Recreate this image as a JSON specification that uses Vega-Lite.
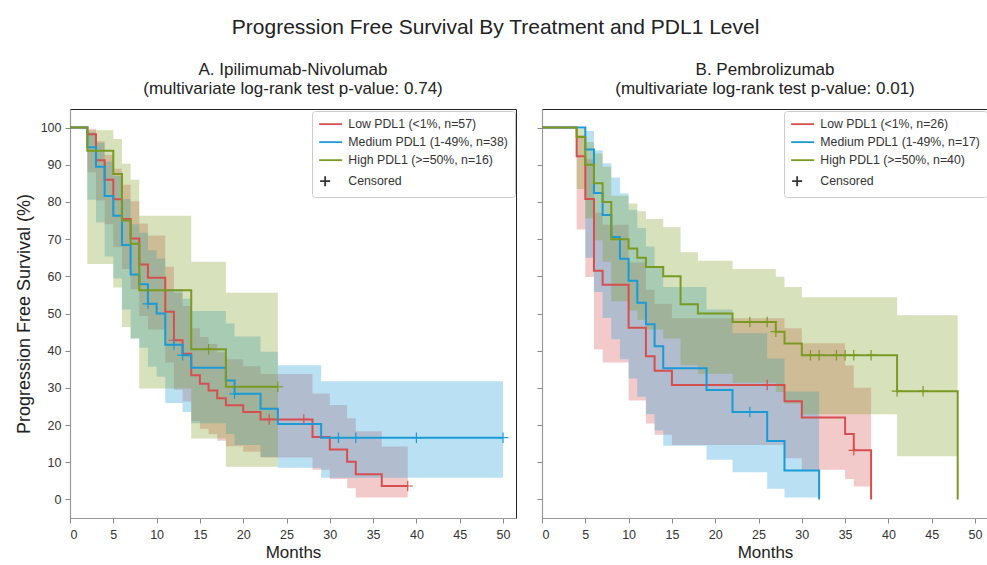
{
  "$schema": "https://vega.github.io/schema/vega-lite/v6.json",
  "background": "white",
  "padding": {"left": 14, "top": 16, "right": 0, "bottom": 0},
  "config": {
    "font": "Liberation Sans",
    "view": {"stroke": "#222", "strokeWidth": 1},
    "axis": {"grid": false, "domainColor": "#999", "domainWidth": 1.2, "tickColor": "#888", "tickSize": 5, "labelFontSize": 12.5, "labelColor": "#333", "labelPadding": 4, "titleFontSize": 17, "titleFontWeight": "normal", "titleColor": "#222", "labelFont": "Liberation Sans", "titleFont": "Liberation Sans"},
    "title": {"font": "Liberation Sans", "fontWeight": "normal", "color": "#222"}
  },
  "title": {"text": "Progression Free Survival By Treatment and PDL1 Level", "fontSize": 21, "anchor": "middle", "offset": 23, "dx": -6},
  "spacing": 19,
  "resolve": {"scale": {"color": "independent", "shape": "independent", "x": "independent", "y": "independent"}, "legend": {"color": "independent", "shape": "independent"}},
  "hconcat": [
    {
      "width": 446, "height": 409,
      "title": {"text": ["A. Ipilimumab-Nivolumab", "(multivariate log-rank test p-value: 0.74)"], "fontSize": 17, "lineHeight": 19, "offset": 11, "anchor": "middle"},
      "layer": [
        {"data": {"name": "bandsA"}, "mark": {"type": "area", "interpolate": "step-after", "opacity": 0.3},
         "encoding": {
           "x": {"field": "t", "type": "quantitative", "scale": {"domain": [0, 51.5], "nice": false}, "axis": {"values": [0,5,10,15,20,25,30,35,40,45,50], "labelPadding": 5, "titlePadding": 4}, "title": "Months"},
           "y": {"field": "lo", "type": "quantitative", "scale": {"domain": [-5, 105], "nice": false}, "axis": {"values": [0,10,20,30,40,50,60,70,80,90,100], "titlePadding": 7, "titleFontSize": 18}, "title": "Progression Free Survival (%)"},
           "y2": {"field": "hi"},
           "fill": {"field": "g", "type": "nominal", "scale": {"domain": ["Low", "Medium", "High"], "range": ["#d64f4f", "#1a9ad6", "#7a9a22"]}, "legend": null}
         }},
        {"data": {"name": "curvesA"}, "mark": {"type": "line", "interpolate": "step-after", "strokeWidth": 2},
         "encoding": {
           "x": {"field": "t", "type": "quantitative"},
           "y": {"field": "s", "type": "quantitative"},
           "stroke": {"field": "g", "type": "nominal", "scale": {"domain": ["Low", "Medium", "High"], "range": ["#d64f4f", "#1a9ad6", "#7a9a22"]}, "legend": null}
         }},
        {"data": {"name": "censA"}, "mark": {"type": "point", "shape": "M-1,0L1,0M0,-1L0,1", "filled": false, "size": 110, "strokeWidth": 1.2, "opacity": 1},
         "encoding": {
           "x": {"field": "t", "type": "quantitative"},
           "y": {"field": "s", "type": "quantitative"},
           "stroke": {"field": "g", "type": "nominal", "legend": null}
         }},
        {"data": {"name": "legendA"}, "mark": {"type": "point", "filled": false, "clip": true, "strokeWidth": 1.8, "opacity": 1},
         "encoding": {
           "x": {"field": "t", "type": "quantitative"},
           "y": {"field": "s", "type": "quantitative"},
           "color": {"field": "lg", "type": "nominal", "scale": {"domain": ["Low PDL1 (<1%, n=57)", "Medium PDL1 (1-49%, n=38)", "High PDL1 (>=50%, n=16)", "Censored"], "range": ["#d64f4f", "#1a9ad6", "#7a9a22", "#333333"]},
             "legend": {"title": null, "orient": "top-right", "offset": 1.5, "labelFontSize": 12.3, "labelColor": "#333", "symbolSize": 100, "symbolStrokeWidth": 1.8, "labelOffset": 17, "rowPadding": 5, "padding": 7, "strokeColor": "#cccccc", "fillColor": "white", "cornerRadius": 3}},
           "shape": {"field": "lg", "type": "nominal", "scale": {"domain": ["Low PDL1 (<1%, n=57)", "Medium PDL1 (1-49%, n=38)", "High PDL1 (>=50%, n=16)", "Censored"], "range": ["M-1.2,0L3.4,0", "M-1.2,0L3.4,0", "M-1.2,0L3.4,0", "M-1,0L1,0M0,-1L0,1"]},
             "legend": {"title": null, "orient": "top-right", "offset": 1.5, "labelFontSize": 12.3, "labelColor": "#333", "symbolSize": 100, "symbolStrokeWidth": 1.8, "labelOffset": 17, "rowPadding": 5, "padding": 7, "strokeColor": "#cccccc", "fillColor": "white", "cornerRadius": 3}}
         }}
      ]
    },
    {
      "width": 446, "height": 409,
      "title": {"text": ["B. Pembrolizumab", "(multivariate log-rank test p-value: 0.01)"], "fontSize": 17, "lineHeight": 19, "offset": 11, "anchor": "middle"},
      "layer": [
        {"data": {"name": "bandsB"}, "mark": {"type": "area", "interpolate": "step-after", "opacity": 0.3},
         "encoding": {
           "x": {"field": "t", "type": "quantitative", "scale": {"domain": [0, 51.5], "nice": false}, "axis": {"values": [0,5,10,15,20,25,30,35,40,45,50], "labelPadding": 5, "titlePadding": 4}, "title": "Months"},
           "y": {"field": "lo", "type": "quantitative", "scale": {"domain": [-5, 105], "nice": false}, "axis": {"values": [0,10,20,30,40,50,60,70,80,90,100], "labels": false, "title": null}},
           "y2": {"field": "hi"},
           "fill": {"field": "g", "type": "nominal", "scale": {"domain": ["Low", "Medium", "High"], "range": ["#d64f4f", "#1a9ad6", "#7a9a22"]}, "legend": null}
         }},
        {"data": {"name": "curvesB"}, "mark": {"type": "line", "interpolate": "step-after", "strokeWidth": 2},
         "encoding": {
           "x": {"field": "t", "type": "quantitative"},
           "y": {"field": "s", "type": "quantitative"},
           "stroke": {"field": "g", "type": "nominal", "scale": {"domain": ["Low", "Medium", "High"], "range": ["#d64f4f", "#1a9ad6", "#7a9a22"]}, "legend": null}
         }},
        {"data": {"name": "censB"}, "mark": {"type": "point", "shape": "M-1,0L1,0M0,-1L0,1", "filled": false, "size": 110, "strokeWidth": 1.2, "opacity": 1},
         "encoding": {
           "x": {"field": "t", "type": "quantitative"},
           "y": {"field": "s", "type": "quantitative"},
           "stroke": {"field": "g", "type": "nominal", "legend": null}
         }},
        {"data": {"name": "legendB"}, "mark": {"type": "point", "filled": false, "clip": true, "strokeWidth": 1.8, "opacity": 1},
         "encoding": {
           "x": {"field": "t", "type": "quantitative"},
           "y": {"field": "s", "type": "quantitative"},
           "color": {"field": "lg", "type": "nominal", "scale": {"domain": ["Low PDL1 (<1%, n=26)", "Medium PDL1 (1-49%, n=17)", "High PDL1 (>=50%, n=40)", "Censored"], "range": ["#d64f4f", "#1a9ad6", "#7a9a22", "#333333"]},
             "legend": {"title": null, "orient": "top-right", "offset": 1.5, "labelFontSize": 12.3, "labelColor": "#333", "symbolSize": 100, "symbolStrokeWidth": 1.8, "labelOffset": 17, "rowPadding": 5, "padding": 7, "strokeColor": "#cccccc", "fillColor": "white", "cornerRadius": 3}},
           "shape": {"field": "lg", "type": "nominal", "scale": {"domain": ["Low PDL1 (<1%, n=26)", "Medium PDL1 (1-49%, n=17)", "High PDL1 (>=50%, n=40)", "Censored"], "range": ["M-1.2,0L3.4,0", "M-1.2,0L3.4,0", "M-1.2,0L3.4,0", "M-1,0L1,0M0,-1L0,1"]},
             "legend": {"title": null, "orient": "top-right", "offset": 1.5, "labelFontSize": 12.3, "labelColor": "#333", "symbolSize": 100, "symbolStrokeWidth": 1.8, "labelOffset": 17, "rowPadding": 5, "padding": 7, "strokeColor": "#cccccc", "fillColor": "white", "cornerRadius": 3}}
         }}
      ]
    }
  ],
  "datasets": {
    "legendA": [
      {"lg": "Low PDL1 (<1%, n=57)", "t": -10, "s": 50},
      {"lg": "Medium PDL1 (1-49%, n=38)", "t": -10, "s": 50},
      {"lg": "High PDL1 (>=50%, n=16)", "t": -10, "s": 50},
      {"lg": "Censored", "t": -10, "s": 50}
    ],
    "legendB": [
      {"lg": "Low PDL1 (<1%, n=26)", "t": -10, "s": 50},
      {"lg": "Medium PDL1 (1-49%, n=17)", "t": -10, "s": 50},
      {"lg": "High PDL1 (>=50%, n=40)", "t": -10, "s": 50},
      {"lg": "Censored", "t": -10, "s": 50}
    ],
    "curvesA": [
      {"g": "Low", "t": 0, "s": 100}, {"g": "Low", "t": 2, "s": 98.2}, {"g": "Low", "t": 3, "s": 91.2}, {"g": "Low", "t": 4, "s": 86.0}, {"g": "Low", "t": 5, "s": 80.7}, {"g": "Low", "t": 6, "s": 75.4}, {"g": "Low", "t": 7, "s": 70.2}, {"g": "Low", "t": 8, "s": 63.2}, {"g": "Low", "t": 9, "s": 59.6}, {"g": "Low", "t": 11, "s": 50.5}, {"g": "Low", "t": 12, "s": 42.8}, {"g": "Low", "t": 13, "s": 39.2}, {"g": "Low", "t": 14, "s": 33.4}, {"g": "Low", "t": 15, "s": 31.1}, {"g": "Low", "t": 16, "s": 29.3}, {"g": "Low", "t": 17, "s": 27.2}, {"g": "Low", "t": 18, "s": 25.3}, {"g": "Low", "t": 20, "s": 23.5}, {"g": "Low", "t": 22, "s": 21.5}, {"g": "Low", "t": 28, "s": 16.8}, {"g": "Low", "t": 30, "s": 13.4}, {"g": "Low", "t": 32, "s": 10.1}, {"g": "Low", "t": 33, "s": 6.8}, {"g": "Low", "t": 36, "s": 3.6}, {"g": "Low", "t": 39, "s": 3.6},
      {"g": "Medium", "t": 0, "s": 100}, {"g": "Medium", "t": 2, "s": 94.7}, {"g": "Medium", "t": 3, "s": 89.5}, {"g": "Medium", "t": 4, "s": 81.6}, {"g": "Medium", "t": 5, "s": 76.3}, {"g": "Medium", "t": 6, "s": 68.4}, {"g": "Medium", "t": 7, "s": 60.5}, {"g": "Medium", "t": 8, "s": 57.9}, {"g": "Medium", "t": 9, "s": 52.6}, {"g": "Medium", "t": 10, "s": 50.0}, {"g": "Medium", "t": 11, "s": 41.6}, {"g": "Medium", "t": 13, "s": 38.8}, {"g": "Medium", "t": 14, "s": 35.4}, {"g": "Medium", "t": 18, "s": 32.0}, {"g": "Medium", "t": 19, "s": 28.4}, {"g": "Medium", "t": 22, "s": 24.4}, {"g": "Medium", "t": 24, "s": 20.3}, {"g": "Medium", "t": 29, "s": 16.6}, {"g": "Medium", "t": 50, "s": 16.6},
      {"g": "High", "t": 0, "s": 100}, {"g": "High", "t": 2, "s": 93.75}, {"g": "High", "t": 5, "s": 87.5}, {"g": "High", "t": 6, "s": 75}, {"g": "High", "t": 7, "s": 68.75}, {"g": "High", "t": 8, "s": 56.25}, {"g": "High", "t": 14, "s": 40.4}, {"g": "High", "t": 18, "s": 30.3}, {"g": "High", "t": 24, "s": 30.3}
    ],
    "bandsA": [
      {"g": "Low", "t": 2, "lo": 88.0, "hi": 99.7}, {"g": "Low", "t": 3, "lo": 80.4, "hi": 96.3}, {"g": "Low", "t": 4, "lo": 74.0, "hi": 92.7}, {"g": "Low", "t": 5, "lo": 67.8, "hi": 88.9}, {"g": "Low", "t": 6, "lo": 62.0, "hi": 84.6}, {"g": "Low", "t": 7, "lo": 56.5, "hi": 80.2}, {"g": "Low", "t": 8, "lo": 49.3, "hi": 74.2}, {"g": "Low", "t": 9, "lo": 45.7, "hi": 71.0}, {"g": "Low", "t": 11, "lo": 36.8, "hi": 62.6}, {"g": "Low", "t": 12, "lo": 29.5, "hi": 55.5}, {"g": "Low", "t": 13, "lo": 26.3, "hi": 52.0}, {"g": "Low", "t": 14, "lo": 21.0, "hi": 46.0}, {"g": "Low", "t": 15, "lo": 19.0, "hi": 43.7}, {"g": "Low", "t": 16, "lo": 17.5, "hi": 41.8}, {"g": "Low", "t": 17, "lo": 15.8, "hi": 39.6}, {"g": "Low", "t": 18, "lo": 14.3, "hi": 37.7}, {"g": "Low", "t": 20, "lo": 12.8, "hi": 35.8}, {"g": "Low", "t": 22, "lo": 11.3, "hi": 33.7}, {"g": "Low", "t": 28, "lo": 8.0, "hi": 28.5}, {"g": "Low", "t": 30, "lo": 5.5, "hi": 25.4}, {"g": "Low", "t": 32, "lo": 3.0, "hi": 21.8}, {"g": "Low", "t": 33, "lo": 0.5, "hi": 18.3}, {"g": "Low", "t": 36, "lo": 0.5, "hi": 14.2}, {"g": "Low", "t": 39, "lo": 0.5, "hi": 14.2},
      {"g": "Medium", "t": 2, "lo": 80.6, "hi": 98.7}, {"g": "Medium", "t": 3, "lo": 74.5, "hi": 95.9}, {"g": "Medium", "t": 4, "lo": 65.3, "hi": 90.8}, {"g": "Medium", "t": 5, "lo": 59.4, "hi": 87.0}, {"g": "Medium", "t": 6, "lo": 51.1, "hi": 80.8}, {"g": "Medium", "t": 7, "lo": 43.3, "hi": 74.0}, {"g": "Medium", "t": 8, "lo": 40.8, "hi": 71.7}, {"g": "Medium", "t": 9, "lo": 35.7, "hi": 67.0}, {"g": "Medium", "t": 10, "lo": 33.0, "hi": 64.8}, {"g": "Medium", "t": 11, "lo": 25.9, "hi": 56.6}, {"g": "Medium", "t": 13, "lo": 23.5, "hi": 54.0}, {"g": "Medium", "t": 14, "lo": 20.5, "hi": 50.7}, {"g": "Medium", "t": 18, "lo": 17.6, "hi": 47.3}, {"g": "Medium", "t": 19, "lo": 14.6, "hi": 43.8}, {"g": "Medium", "t": 22, "lo": 11.4, "hi": 39.7}, {"g": "Medium", "t": 24, "lo": 8.5, "hi": 36.1}, {"g": "Medium", "t": 29, "lo": 5.8, "hi": 31.8}, {"g": "Medium", "t": 50, "lo": 5.8, "hi": 31.8},
      {"g": "High", "t": 2, "lo": 63.3, "hi": 99.3}, {"g": "High", "t": 5, "lo": 57.0, "hi": 96.9}, {"g": "High", "t": 6, "lo": 46.4, "hi": 90.3}, {"g": "High", "t": 7, "lo": 43.3, "hi": 86.0}, {"g": "High", "t": 8, "lo": 29.8, "hi": 76.3}, {"g": "High", "t": 14, "lo": 16.4, "hi": 63.9}, {"g": "High", "t": 18, "lo": 8.8, "hi": 55.6}, {"g": "High", "t": 24, "lo": 8.8, "hi": 55.6}
    ],
    "censA": [
      {"g": "Low", "t": 12, "s": 42.8}, {"g": "Low", "t": 23, "s": 21.5}, {"g": "Low", "t": 27, "s": 21.5}, {"g": "Low", "t": 39, "s": 3.6},
      {"g": "Medium", "t": 9, "s": 52.6}, {"g": "Medium", "t": 12, "s": 41.6}, {"g": "Medium", "t": 13, "s": 38.8}, {"g": "Medium", "t": 19, "s": 28.4}, {"g": "Medium", "t": 31, "s": 16.6}, {"g": "Medium", "t": 33, "s": 16.6}, {"g": "Medium", "t": 40, "s": 16.6}, {"g": "Medium", "t": 50, "s": 16.6},
      {"g": "High", "t": 16, "s": 40.4}, {"g": "High", "t": 24, "s": 30.3}
    ],
    "curvesB": [
      {"g": "Low", "t": 0, "s": 100}, {"g": "Low", "t": 4, "s": 92.3}, {"g": "Low", "t": 5, "s": 80.8}, {"g": "Low", "t": 6, "s": 61.5}, {"g": "Low", "t": 7, "s": 57.7}, {"g": "Low", "t": 10, "s": 46.2}, {"g": "Low", "t": 12, "s": 38.5}, {"g": "Low", "t": 13, "s": 34.6}, {"g": "Low", "t": 15, "s": 30.8}, {"g": "Low", "t": 28, "s": 26.4}, {"g": "Low", "t": 30, "s": 22.0}, {"g": "Low", "t": 35, "s": 17.6}, {"g": "Low", "t": 36, "s": 13.2}, {"g": "Low", "t": 38, "s": 0},
      {"g": "Medium", "t": 0, "s": 100}, {"g": "Medium", "t": 5, "s": 94.1}, {"g": "Medium", "t": 6, "s": 82.4}, {"g": "Medium", "t": 7, "s": 76.5}, {"g": "Medium", "t": 8, "s": 70.6}, {"g": "Medium", "t": 9, "s": 64.7}, {"g": "Medium", "t": 10, "s": 58.8}, {"g": "Medium", "t": 11, "s": 52.9}, {"g": "Medium", "t": 12, "s": 47.1}, {"g": "Medium", "t": 13, "s": 41.2}, {"g": "Medium", "t": 14, "s": 35.3}, {"g": "Medium", "t": 19, "s": 29.4}, {"g": "Medium", "t": 22, "s": 23.5}, {"g": "Medium", "t": 26, "s": 15.7}, {"g": "Medium", "t": 28, "s": 7.8}, {"g": "Medium", "t": 32, "s": 0},
      {"g": "High", "t": 0, "s": 100}, {"g": "High", "t": 4, "s": 97.5}, {"g": "High", "t": 5, "s": 90}, {"g": "High", "t": 6, "s": 85}, {"g": "High", "t": 7, "s": 80}, {"g": "High", "t": 8, "s": 70}, {"g": "High", "t": 10, "s": 67.5}, {"g": "High", "t": 11, "s": 65}, {"g": "High", "t": 12, "s": 62.5}, {"g": "High", "t": 14, "s": 60}, {"g": "High", "t": 16, "s": 52.5}, {"g": "High", "t": 18, "s": 50}, {"g": "High", "t": 22, "s": 47.7}, {"g": "High", "t": 27, "s": 45.1}, {"g": "High", "t": 28, "s": 41.9}, {"g": "High", "t": 30, "s": 38.8}, {"g": "High", "t": 41, "s": 29.1}, {"g": "High", "t": 48, "s": 0}
    ],
    "bandsB": [
      {"g": "Low", "t": 4, "lo": 72.6, "hi": 98.0}, {"g": "Low", "t": 5, "lo": 59.8, "hi": 91.5}, {"g": "Low", "t": 6, "lo": 40.4, "hi": 77.1}, {"g": "Low", "t": 7, "lo": 36.8, "hi": 73.9}, {"g": "Low", "t": 10, "lo": 26.6, "hi": 63.7}, {"g": "Low", "t": 12, "lo": 20.4, "hi": 56.4}, {"g": "Low", "t": 13, "lo": 17.4, "hi": 52.6}, {"g": "Low", "t": 15, "lo": 14.6, "hi": 48.7}, {"g": "Low", "t": 28, "lo": 11.1, "hi": 46.0}, {"g": "Low", "t": 30, "lo": 8.0, "hi": 42.0}, {"g": "Low", "t": 35, "lo": 5.5, "hi": 36.0}, {"g": "Low", "t": 36, "lo": 3.5, "hi": 30.0}, {"g": "Low", "t": 38, "lo": 3.5, "hi": 30.0},
      {"g": "Medium", "t": 5, "lo": 65.0, "hi": 99.1}, {"g": "Medium", "t": 6, "lo": 55.8, "hi": 93.9}, {"g": "Medium", "t": 7, "lo": 48.8, "hi": 90.4}, {"g": "Medium", "t": 8, "lo": 43.1, "hi": 86.6}, {"g": "Medium", "t": 9, "lo": 37.7, "hi": 82.3}, {"g": "Medium", "t": 10, "lo": 32.5, "hi": 77.9}, {"g": "Medium", "t": 11, "lo": 27.6, "hi": 73.0}, {"g": "Medium", "t": 12, "lo": 22.9, "hi": 68.0}, {"g": "Medium", "t": 13, "lo": 18.5, "hi": 62.6}, {"g": "Medium", "t": 14, "lo": 14.4, "hi": 57.1}, {"g": "Medium", "t": 19, "lo": 10.7, "hi": 51.1}, {"g": "Medium", "t": 22, "lo": 7.3, "hi": 44.7}, {"g": "Medium", "t": 26, "lo": 2.9, "hi": 37.9}, {"g": "Medium", "t": 28, "lo": 0.5, "hi": 29.0}, {"g": "Medium", "t": 32, "lo": 0.5, "hi": 29.0},
      {"g": "High", "t": 4, "lo": 83.5, "hi": 99.6}, {"g": "High", "t": 5, "lo": 75.6, "hi": 96.1}, {"g": "High", "t": 6, "lo": 69.7, "hi": 93.0}, {"g": "High", "t": 7, "lo": 63.9, "hi": 89.5}, {"g": "High", "t": 8, "lo": 53.3, "hi": 81.7}, {"g": "High", "t": 10, "lo": 50.8, "hi": 79.6}, {"g": "High", "t": 11, "lo": 48.3, "hi": 77.5}, {"g": "High", "t": 12, "lo": 45.7, "hi": 75.4}, {"g": "High", "t": 14, "lo": 43.3, "hi": 73.2}, {"g": "High", "t": 16, "lo": 36.1, "hi": 66.5}, {"g": "High", "t": 18, "lo": 33.8, "hi": 64.2}, {"g": "High", "t": 22, "lo": 31.4, "hi": 62.0}, {"g": "High", "t": 27, "lo": 28.9, "hi": 59.9}, {"g": "High", "t": 28, "lo": 25.8, "hi": 57.1}, {"g": "High", "t": 30, "lo": 22.9, "hi": 54.4}, {"g": "High", "t": 41, "lo": 11.6, "hi": 49.5}, {"g": "High", "t": 48, "lo": 11.6, "hi": 49.5}
    ],
    "censB": [
      {"g": "Low", "t": 26, "s": 30.8}, {"g": "Low", "t": 36, "s": 13.2},
      {"g": "Medium", "t": 24, "s": 23.5},
      {"g": "High", "t": 24, "s": 47.7}, {"g": "High", "t": 26, "s": 47.7}, {"g": "High", "t": 27, "s": 45.1}, {"g": "High", "t": 31, "s": 38.8}, {"g": "High", "t": 32, "s": 38.8}, {"g": "High", "t": 34, "s": 38.8}, {"g": "High", "t": 35, "s": 38.8}, {"g": "High", "t": 36, "s": 38.8}, {"g": "High", "t": 38, "s": 38.8}, {"g": "High", "t": 41, "s": 29.1}, {"g": "High", "t": 44, "s": 29.1}
    ]
  }
}
